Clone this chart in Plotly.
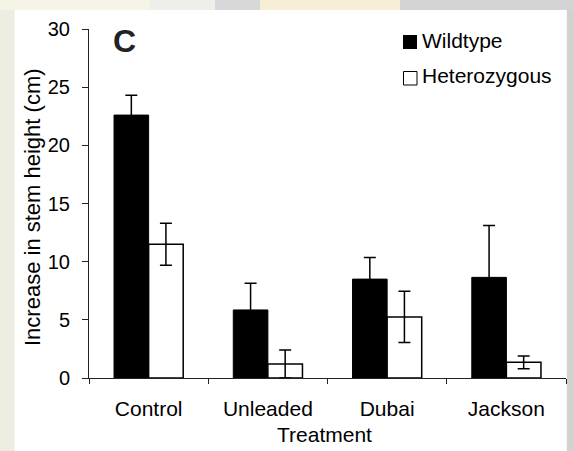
import plotly.graph_objects as go

categories = ["Control", "Unleaded", "Dubai", "Jackson"]
wildtype = [22.6, 5.85, 8.5, 8.65]
wildtype_err = [1.7, 2.3, 1.85, 4.45]
heterozygous = [11.5, 1.2, 5.25, 1.35]
heterozygous_err = [1.8, 1.2, 2.2, 0.55]
y_ticks = [0, 5, 10, 15, 20, 25, 30]

W, H = 574, 451
L, R, T, B = 89, 8, 29, 73
PW, PH = W - L - R, H - T - B

def px(x):
    return (x - L) / PW

def py(y):
    return (H - B - y) / PH

FONT = "Liberation Sans, Arial, sans-serif"

fig = go.Figure()
fig.add_trace(go.Bar(
    x=categories, y=wildtype, name="Wildtype",
    marker=dict(color="black", line=dict(color="black", width=1)),
    error_y=dict(type="data", array=wildtype_err, color="black", thickness=1.5, width=6),
))
fig.add_trace(go.Bar(
    x=categories, y=heterozygous, name="Heterozygous",
    marker=dict(color="white", line=dict(color="black", width=1.5)),
    error_y=dict(type="data", array=heterozygous_err, color="black", thickness=1.5, width=6),
))

shapes = []
def rect(x0, y0, x1, y1, color):
    shapes.append(dict(type="rect", xref="paper", yref="paper",
                       x0=px(x0), x1=px(x1), y0=py(y1), y1=py(y0),
                       fillcolor=color, line=dict(width=0), layer="below"))

# textured surround (approximation)
rect(0, 0, 574, 451, "#e6e4da")
rect(0, 0, 150, 10, "#f5f4e6")
rect(150, 0, 215, 10, "#eeeeea")
rect(215, 0, 260, 10, "#d6d8da")
rect(260, 0, 400, 10, "#f6efd6")
rect(400, 0, 574, 10, "#d4d4d6")
rect(0, 10, 15, 451, "#eeede2")
rect(567, 10, 574, 451, "#d2d2d2")
# white panel
rect(14.6, 10, 566.7, 451, "#ffffff")
# legend swatches
rect(403, 35, 417, 49, "#000000")
shapes.append(dict(type="rect", xref="paper", yref="paper",
                   x0=px(403.5), x1=px(417), y0=py(85), y1=py(71.5),
                   fillcolor="white", line=dict(color="black", width=1)))

annotations = [
    dict(text="<b>C</b>", x=px(124), y=py(41), xref="paper", yref="paper",
         showarrow=False, font=dict(size=32, family=FONT, color="#222"),
         xanchor="center", yanchor="middle"),
    dict(text="Wildtype", x=px(420), y=py(40), xref="paper", yref="paper",
         showarrow=False, font=dict(size=21, family=FONT, color="black"),
         xanchor="left", yanchor="middle"),
    dict(text="Heterozygous", x=px(420), y=py(76), xref="paper", yref="paper",
         showarrow=False, font=dict(size=21, family=FONT, color="black"),
         xanchor="left", yanchor="middle"),
    dict(text="Increase in stem height (cm)", x=px(32), y=py(207), xref="paper", yref="paper",
         showarrow=False, textangle=-90, font=dict(size=22, family=FONT, color="black"),
         xanchor="center", yanchor="middle"),
    dict(text="Treatment", x=px(324), y=py(435), xref="paper", yref="paper",
         showarrow=False, font=dict(size=21, family=FONT, color="black"),
         xanchor="center", yanchor="middle"),
]

fig.update_layout(
    width=W, height=H,
    margin=dict(l=L, r=R, t=T, b=B, pad=0),
    paper_bgcolor="#e6e4da", plot_bgcolor="rgba(0,0,0,0)",
    barmode="group", bargap=0.42, bargroupgap=0,
    showlegend=False,
    shapes=shapes, annotations=annotations,
    font=dict(family=FONT, size=21, color="black"),
    xaxis=dict(range=[-0.5, 3.5], showline=True, linecolor="#222", linewidth=1,
               ticks="outside", ticklen=5, tickcolor="#222", tickson="boundaries",
               showgrid=False, zeroline=False, fixedrange=True,
               tickfont=dict(size=21, family=FONT, color="black"), ticklabelstandoff=12),
    yaxis=dict(range=[0, 30], tickvals=y_ticks, showline=True, linecolor="#222", linewidth=1,
               ticks="outside", ticklen=6, tickcolor="#222",
               showgrid=False, zeroline=False, fixedrange=True,
               tickfont=dict(size=20, family=FONT, color="black"), ticklabelstandoff=8),
)

fig.write_html("out.html", config={"displayModeBar": False},
               post_script="document.body.style.margin='0px';")
